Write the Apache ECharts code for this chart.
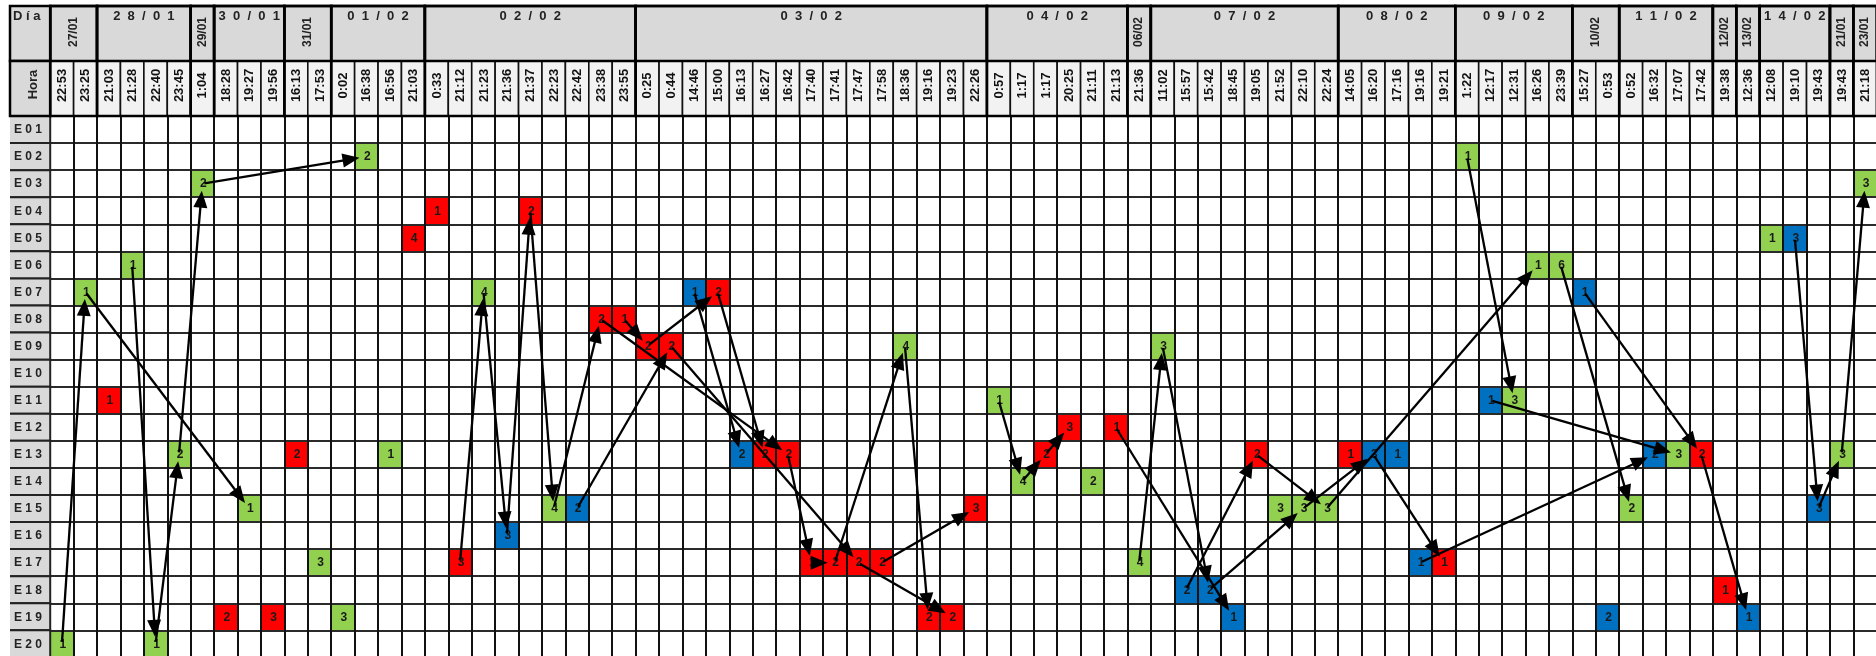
<!DOCTYPE html>
<html><head><meta charset="utf-8">
<script src="https://cdn.jsdelivr.net/npm/echarts@6/dist/echarts.min.js"></script>
<style>html,body{margin:0;padding:0;background:#fff}#c{width:1876px;height:656px}</style>
</head><body><div id="c"></div>
<script>
// ---------- DATA ----------
const dayLabels = ['27/01','28/01','29/01','30/01','31/01','01/02','02/02','03/02','04/02','06/02','07/02','08/02','09/02','10/02','11/02','12/02','13/02','14/02','21/01','23/01'];
const daySpans  = [2,4,1,3,2,4,9,15,6,1,8,5,5,2,4,1,1,3,1,1];
const horas = ['22:53','23:25','21:03','21:28','22:40','23:45','1:04','18:28','19:27','19:56','16:13','17:53','0:02','16:38','16:56','21:03',
  '0:33','21:12','21:23','21:36','21:37','22:23','22:42','23:38','23:55',
  '0:25','0:44','14:46','15:00','16:13','16:27','16:42','17:40','17:41','17:47','17:58','18:36','19:16','19:23','22:26',
  '0:57','1:17','1:17','20:25','21:11','21:13','21:36',
  '11:02','15:57','15:42','18:45','19:05','21:52','22:10','22:24',
  '14:05','16:20','17:16','19:16','19:21','1:22','12:17','12:31','16:26','23:39','15:27','0:53',
  '0:52','16:32','17:07','17:42','19:38','12:36','12:08','19:10','19:43','19:43','21:18'];
const rows = ['E01','E02','E03','E04','E05','E06','E07','E08','E09','E10','E11','E12','E13','E14','E15','E16','E17','E18','E19','E20'];

const greenCells = [[13,'E02',2],[60,'E02',1],[6,'E03',2],[77,'E03',3],[73,'E05',1],[3,'E06',1],[63,'E06',1],[64,'E06',6],
  [1,'E07',1],[18,'E07',4],[36,'E09',4],[47,'E09',3],[40,'E11',1],[62,'E11',3],[5,'E13',2],[14,'E13',1],[69,'E13',3],[76,'E13',3],
  [41,'E14',4],[44,'E14',2],[8,'E15',1],[21,'E15',4],[52,'E15',3],[53,'E15',3],[54,'E15',3],[67,'E15',2],[11,'E17',3],[46,'E17',4],
  [12,'E19',3],[0,'E20',1],[4,'E20',1]];
const redCells = [[16,'E04',1],[20,'E04',2],[15,'E05',4],[28,'E07',2],[23,'E08',2],[24,'E08',1],[25,'E09',2],[26,'E09',2],
  [2,'E11',1],[43,'E12',3],[45,'E12',1],[10,'E13',2],[30,'E13',2],[31,'E13',2],[42,'E13',2],[51,'E13',2],[55,'E13',1],[70,'E13',2],
  [39,'E15',3],[17,'E17',3],[32,'E17',1],[33,'E17',2],[34,'E17',2],[35,'E17',2],[59,'E17',1],[71,'E18',1],
  [7,'E19',2],[9,'E19',3],[37,'E19',2],[38,'E19',2]];
const blueCells = [[74,'E05',3],[27,'E07',1],[65,'E07',1],[61,'E11',1],[29,'E13',2],[56,'E13',3],[57,'E13',1],[68,'E13',2],
  [22,'E15',2],[75,'E15',3],[19,'E16',3],[58,'E17',1],[48,'E18',2],[49,'E18',2],[50,'E19',1],[66,'E19',2],[72,'E19',1]];

const arrows = [
  [[0,'E20'],[1,'E07']], [[1,'E07'],[8,'E15']], [[3,'E06'],[4,'E20']], [[4,'E20'],[5,'E13']], [[5,'E13'],[6,'E03']],
  [[6,'E03'],[13,'E02']], [[17,'E17'],[18,'E07']], [[18,'E07'],[19,'E16']], [[19,'E16'],[20,'E04']], [[20,'E04'],[21,'E15']],
  [[21,'E15'],[23,'E08']], [[22,'E15'],[26,'E09']], [[24,'E08'],[25,'E09']], [[27,'E07'],[29,'E13']], [[28,'E07'],[30,'E13']],
  [[25,'E09'],[28,'E07']], [[23,'E08'],[31,'E13']], [[26,'E09'],[34,'E17']], [[31,'E13'],[32,'E17']], [[32,'E17'],[33,'E17']],
  [[33,'E17'],[36,'E09']], [[34,'E17'],[38,'E19']], [[36,'E09'],[37,'E19']], [[35,'E17'],[39,'E15']],
  [[40,'E11'],[41,'E14']], [[41,'E14'],[42,'E13']], [[42,'E13'],[43,'E12']], [[45,'E12'],[50,'E19']],
  [[46,'E17'],[47,'E09']], [[47,'E09'],[49,'E18']], [[48,'E18'],[51,'E13']], [[49,'E18'],[53,'E15']], [[51,'E13'],[54,'E15']],
  [[53,'E15'],[56,'E13']], [[54,'E15'],[63,'E06']], [[56,'E13'],[59,'E17']], [[58,'E17'],[68,'E13']], [[61,'E11'],[69,'E13']],
  [[60,'E02'],[62,'E11']], [[64,'E06'],[67,'E15']], [[65,'E07'],[70,'E13']], [[70,'E13'],[72,'E19']],
  [[74,'E05'],[75,'E15']], [[75,'E15'],[76,'E13']], [[76,'E13'],[77,'E03']]
];

// ---------- RENDER ----------
const FONT = '"Liberation Sans", Arial, sans-serif';
const spaced = (s, sep) => s.split('').join(sep || ' ');
const dayStarts = []; { let acc = 0; daySpans.forEach(s => { dayStarts.push(acc); acc += s; }); }
const colIdx = horas.map((_, i) => String(i));
const ri = r => rows.indexOf(r);

function renderDay(params, api) {
  const i = params.dataIndex;
  const s = api.value(0), e = api.value(1);
  const a = api.coord([s, 0]), b = api.coord([e, 0]);
  const sz = api.size([1, 1]);
  const x0 = a[0] - sz[0] / 2, x1 = b[0] + sz[0] / 2, y0 = a[1] - sz[1] / 2, h = sz[1];
  const span = e - s + 1;
  const ch = [
    {type: 'rect', shape: {x: x0, y: y0, width: x1 - x0, height: h}, style: {fill: '#d9d9d9', stroke: '#000', lineWidth: 2.5}},
    {type: 'rect', z2: 5, shape: {x: x0, y: y0, width: x1 - x0, height: h * 2}, style: {fill: 'none', stroke: '#000', lineWidth: 2.5}}
  ];
  if (span >= 3) {
    ch.push({type: 'text', x: (x0 + x1) / 2, y: y0 + 10.5, style: {text: spaced(dayLabels[i], '  '), font: 'bold 13px ' + FONT, fill: '#222', align: 'center', verticalAlign: 'middle'}});
  } else {
    ch.push({type: 'text', x: (x0 + x1) / 2, y: y0 + 26, rotation: Math.PI / 2, style: {text: dayLabels[i], font: 'bold 12px ' + FONT, fill: '#222', align: 'center', verticalAlign: 'middle'}});
  }
  return {type: 'group', children: ch};
}
function renderHora(params, api) {
  const c = api.coord([api.value(0), 1]); const sz = api.size([1, 1]);
  return {type: 'group', children: [
    {type: 'rect', shape: {x: c[0] - sz[0] / 2, y: c[1] - sz[1] / 2, width: sz[0], height: sz[1]}, style: {fill: '#f2f2f2', stroke: '#111', lineWidth: 1.6}},
    {type: 'text', x: c[0] + 0.5, y: c[1] - 3, rotation: Math.PI / 2, style: {text: horas[params.dataIndex], font: 'bold 13px ' + FONT, fill: '#111', align: 'center', verticalAlign: 'middle'}}
  ]};
}
function renderRowLabel(params, api) {
  const c = api.coord([0, api.value(1)]); const sz = api.size([1, 1]);
  const x0 = c[0] - sz[0] / 2, y0 = c[1] - sz[1] / 2, x1 = x0 + sz[0], y1 = y0 + sz[1];
  return {type: 'group', children: [
    {type: 'rect', shape: {x: x0, y: y0, width: sz[0], height: sz[1]}, style: {fill: '#d9d9d9'}},
    {type: 'polyline', shape: {points: [[x0, y0], [x1, y0], [x1, y1], [x0, y1]]}, style: {fill: 'none', stroke: '#222', lineWidth: 2}},
    {type: 'text', x: x0 + 4, y: c[1] + 0.5, style: {text: spaced(rows[params.dataIndex]), font: 'bold 12px ' + FONT, fill: '#222', align: 'left', verticalAlign: 'middle'}}
  ]};
}
function renderCorner(params, api) {
  const c = api.coord([0, api.value(1)]); const sz = api.size([1, 1]);
  const x0 = c[0] - sz[0] / 2, y0 = c[1] - sz[1] / 2;
  const ch = [{type: 'rect', shape: {x: x0, y: y0, width: sz[0], height: sz[1]}, style: {fill: '#d9d9d9', stroke: '#000', lineWidth: 2.5}}];
  if (params.dataIndex === 0) {
    ch.push({type: 'text', x: x0 + 3, y: y0 + 10.5, style: {text: spaced('Día'), font: 'bold 13px ' + FONT, fill: '#222', align: 'left', verticalAlign: 'middle'}});
  } else {
    ch.push({type: 'text', x: c[0] + 3, y: c[1] - 4, rotation: Math.PI / 2, style: {text: 'Hora', font: 'bold 13px ' + FONT, fill: '#222', align: 'center', verticalAlign: 'middle'}});
  }
  return {type: 'group', children: ch};
}
function cellRenderer(color) {
  return function (params, api) {
    const c = api.coord([api.value(0), api.value(1)]); const sz = api.size([1, 1]);
    return {type: 'group', children: [
      {type: 'rect', shape: {x: c[0] - sz[0] / 2, y: c[1] - sz[1] / 2, width: sz[0], height: sz[1]}, style: {fill: color}},
      {type: 'text', x: c[0] + 1, y: c[1] + 0.5, style: {text: String(api.value(2)), font: 'bold 12px ' + FONT, fill: '#1a1a1a', align: 'center', verticalAlign: 'middle'}}
    ]};
  };
}
function renderArrow(params, api) {
  const p = api.coord([api.value(0), api.value(1)]);
  const q = api.coord([api.value(2), api.value(3)]);
  const dx = q[0] - p[0], dy = q[1] - p[1], len = Math.hypot(dx, dy);
  const ux = dx / len, uy = dy / len, nx = -uy, ny = ux;
  const tip = [q[0] - ux * 7, q[1] - uy * 7];
  const base = [tip[0] - ux * 17, tip[1] - uy * 17];
  return {type: 'group', children: [
    {type: 'line', shape: {x1: p[0] + ux * 2, y1: p[1] + uy * 2, x2: base[0] + ux * 3, y2: base[1] + uy * 3}, style: {stroke: '#000', lineWidth: 2.3}},
    {type: 'polygon', shape: {points: [tip, [base[0] + nx * 7, base[1] + ny * 7], [base[0] - nx * 7, base[1] - ny * 7]]}, style: {fill: '#000'}}
  ]};
}

const L = 50.2, W = 1826.6, TOP = 116, H = 541.4;
const hidden = {show: false};
const option = {
  animation: false,
  backgroundColor: '#fff',
  grid: [
    {left: L, top: TOP, width: W, height: H, outerBoundsMode: 'none'},
    {left: L, top: 6, width: W, height: 110, outerBoundsMode: 'none'},
    {left: 10, top: TOP, width: L - 10, height: H, outerBoundsMode: 'none'},
    {left: 10, top: 6, width: L - 10, height: 110, outerBoundsMode: 'none'}
  ],
  xAxis: [
    {gridIndex: 0, type: 'category', data: colIdx, boundaryGap: true, axisLine: hidden, axisTick: hidden, axisLabel: hidden,
      splitLine: {show: true, interval: 0, lineStyle: {color: '#111', width: 2}}, z: 3},
    {gridIndex: 1, type: 'category', data: colIdx, show: false},
    {gridIndex: 2, type: 'category', data: ['r'], show: false},
    {gridIndex: 3, type: 'category', data: ['r'], show: false}
  ],
  yAxis: [
    {gridIndex: 0, type: 'category', data: rows, inverse: true, boundaryGap: true, axisLine: hidden, axisTick: hidden, axisLabel: hidden,
      splitLine: {show: true, interval: 0, lineStyle: {color: '#2a2a2a', width: 2}}, z: 3},
    {gridIndex: 1, type: 'category', data: ['Día', 'Hora'], inverse: true, show: false},
    {gridIndex: 2, type: 'category', data: rows, inverse: true, show: false},
    {gridIndex: 3, type: 'category', data: ['Día', 'Hora'], inverse: true, show: false}
  ],
  series: [
    {type: 'custom', xAxisIndex: 1, yAxisIndex: 1, z: 2, silent: true, renderItem: renderHora, data: horas.map((_, i) => [i, 1])},
    {type: 'custom', xAxisIndex: 1, yAxisIndex: 1, z: 4, silent: true, renderItem: renderDay, data: dayStarts.map((s, i) => [s, s + daySpans[i] - 1])},
    {type: 'custom', xAxisIndex: 2, yAxisIndex: 2, z: 4, silent: true, renderItem: renderRowLabel, data: rows.map((_, i) => [0, i])},
    {type: 'custom', xAxisIndex: 3, yAxisIndex: 3, z: 4, silent: true, renderItem: renderCorner, data: [[0, 0], [0, 1]]},
    {type: 'custom', xAxisIndex: 0, yAxisIndex: 0, z: 2, silent: true, renderItem: cellRenderer('#92d050'), data: greenCells.map(d => [d[0], ri(d[1]), d[2]])},
    {type: 'custom', xAxisIndex: 0, yAxisIndex: 0, z: 2, silent: true, renderItem: cellRenderer('#ff0000'), data: redCells.map(d => [d[0], ri(d[1]), d[2]])},
    {type: 'custom', xAxisIndex: 0, yAxisIndex: 0, z: 2, silent: true, renderItem: cellRenderer('#0070c0'), data: blueCells.map(d => [d[0], ri(d[1]), d[2]])},
    {type: 'custom', xAxisIndex: 0, yAxisIndex: 0, z: 10, silent: true, renderItem: renderArrow,
      data: arrows.map(a => [a[0][0], ri(a[0][1]), a[1][0], ri(a[1][1])])}
  ]
};
const chart = echarts.init(document.getElementById('c'), null, {renderer: 'canvas'});
chart.setOption(option);
</script></body></html>
